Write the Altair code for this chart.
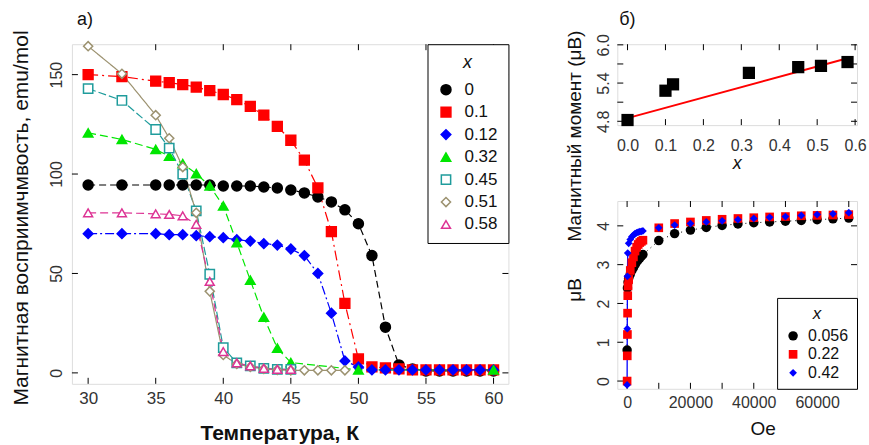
import altair as alt
import pandas as pd

FONT = "Liberation Sans"
LBL = "#333333"

# ---------------- panel a) : susceptibility vs temperature ----------------
series = ["0", "0.1", "0.12", "0.32", "0.45", "0.51", "0.58"]
colors = ["#000000", "#ff0000", "#0000ff", "#00e600", "#1f9c9c", "#9c9270", "#dd3394"]
fills = ["#000000", "#ff0000", "#0000ff", "#00e600", "white", "white", "white"]
shapes = ["circle", "square", "diamond", "triangle-up", "square", "diamond", "triangle-up"]
sizes = [100, 80, 110, 130, 60, 85, 105]
dashes = [[7, 4], [10, 4, 2, 4], [9, 3, 2, 3], [8, 4], [8, 3], [1, 0], [8, 4]]

temps_all = [30, 32.5, 35, 36, 37, 38, 39, 40, 41, 42, 43, 44, 45, 46, 47, 48, 49,
             50, 51, 52, 53, 54, 55, 56, 57, 58, 59, 60]
chi_0 = [94.5, 94.5, 94.5, 94.5, 94.5, 94.5, 94.5, 94, 94, 94, 93.5, 93, 92, 90.5,
         88.5, 86, 82, 75, 59, 23, 4, 2, 1, 1, 1, 1, 1, 1]
chi_01 = [150, 149, 146.7, 146, 145, 143.7, 142, 140, 137.4, 134, 129.6, 124, 117,
          107, 93, 71, 35, 7, 3, 2.5, 2, 1.5, 1.5, 1.5, 1.5, 1.5, 1.5, 1.5]
chi_012 = [70, 70, 70, 69.5, 69.5, 69, 68.5, 68, 67, 66.3, 65, 64.3, 62.3, 59, 50,
           30, 6, 3, 1.5, 1.5, 1.5, 1.5, 1.5, 1.5, 1.5, 1.5, 1.5, 1.5]
temps_032 = [30, 32.5, 35, 36, 37, 38, 39, 40, 41, 42, 43, 44, 45, 50, 60]
chi_032 = [120.7, 117.4, 112.4, 109, 105.2, 100.2, 94, 84, 65.5, 46.6, 28, 12.4, 5.2, 1.5, 1.5]
temps_045 = [30, 32.5, 35, 36, 37, 38, 39, 40, 41, 42, 43, 44, 45]
chi_045 = [143, 137, 122.4, 113, 100, 81.5, 49.6, 12.7, 5, 3.5, 2.3, 1.8, 1.8]
temps_051 = [30, 32.5, 35, 36, 37, 38, 39, 40, 41, 42, 43, 44, 45, 46, 47, 48, 49]
chi_051 = [164.3, 150.4, 129.6, 118, 103.5, 80.5, 41, 9, 4.5, 3, 2, 1.5, 1.3, 1.3, 1.3, 1.3, 1.3]
temps_058 = [30, 32.5, 35, 36, 37, 38, 39, 40, 41, 42, 43, 44, 45]
chi_058 = [80.5, 80.5, 80, 79.7, 79, 74.7, 46, 10.7, 5, 3.5, 2.3, 1.8, 1.8]

a_ticks_x = [30, 35, 40, 45, 50, 55, 60]
a_ticks_y = [0, 50, 100, 150]

# ---------------- panel б) top : moment vs x ----------------
mom_x = [0.0, 0.1, 0.12, 0.32, 0.45, 0.51, 0.58]
mom_val = [4.82, 5.28, 5.38, 5.56, 5.65, 5.67, 5.73]
fit_x = [0.0, 0.58]
fit_val = [4.85, 5.79]
b_ticks_x = [0.0, 0.1, 0.2, 0.3, 0.4, 0.5, 0.6]
b_labels_y = [4.8, 5.4, 6.0]
b_ticks_y = [4.8, 5.1, 5.4, 5.7, 6.0]

# ---------------- panel б) bottom : M(H) ----------------
c_series = ["0.056", "0.22", "0.42"]
c_colors = ["#000000", "#ff0000", "#0000ff"]
c_shapes = ["circle", "square", "diamond"]
c_sizes = [90, 60, 95]
h_high = [10000, 15000, 20000, 25000, 30000, 35000, 40000, 45000, 50000, 55000,
          60000, 65000, 70000]
h_black = [0, 100, 300, 500, 1000, 1500, 2000, 2500, 3000, 3500, 4000, 4500, 5000] + h_high
m_black = [0.8, 2.4, 2.55, 2.65, 2.75, 2.85, 2.92, 3.0, 3.07, 3.12, 3.17, 3.22, 3.26,
           3.62, 3.8, 3.89, 3.96, 4.01, 4.05, 4.08, 4.1, 4.12, 4.14, 4.16, 4.18, 4.2]
h_red = [0, 50, 100, 150, 200, 300, 500, 1000, 1500, 2000, 2500, 3000, 3500, 4000,
         4500, 5000] + h_high
m_red = [0.0, 0.65, 1.2, 1.75, 2.2, 2.45, 2.62, 2.85, 3.05, 3.2, 3.35, 3.45, 3.52,
         3.57, 3.6, 3.63,
         3.95, 4.06, 4.1, 4.14, 4.17, 4.19, 4.21, 4.23, 4.24, 4.26, 4.27, 4.28, 4.29]
h_blue = [0, 50, 100, 200, 500, 1000, 1500, 2000, 2500, 3000, 3500, 4000, 4500, 5000] + h_high
m_blue = [-0.1, 1.35, 2.7, 3.3, 3.55, 3.65, 3.72, 3.76, 3.8, 3.82, 3.84, 3.85, 3.86, 3.87,
          3.95, 4.02, 4.06, 4.1, 4.13, 4.16, 4.19, 4.22, 4.24, 4.27, 4.29, 4.31, 4.34]
blue_line_n = 4  # the blue connecting line is only visible over the steep low-field part
c_ticks_x = [0, 10000, 20000, 30000, 40000, 50000, 60000, 70000]
c_labels_x = [0, 20000, 40000, 60000]
c_ticks_y = [0, 1, 2, 3, 4]


# ---------------- helpers ----------------
def label_axis(values, fmt=None, angle=0, pad=6, size=16):
    kw = dict(values=values, ticks=False, tickSize=0, domain=False, grid=False,
              title=None, labelFont=FONT, labelFontSize=size, labelColor=LBL,
              labelPadding=pad, labelOverlap=False, labelAngle=angle)
    if fmt:
        kw["format"] = fmt
    return alt.Axis(**kw)


def tick_layers(xvals, yvals, xenc, yenc, W, H, L=6):
    xt = pd.DataFrame({"v": xvals})
    yt = pd.DataFrame({"v": yvals})
    rule = dict(color="black", strokeWidth=1)
    xe = alt.X("v:Q", scale=xenc[0], axis=xenc[1])
    ye = alt.Y("v:Q", scale=yenc[0], axis=yenc[1])
    return [
        alt.Chart(xt).mark_rule(**rule).encode(x=xe, y=alt.value(H - L), y2=alt.value(H)),
        alt.Chart(xt).mark_rule(**rule).encode(x=xe, y=alt.value(0), y2=alt.value(L)),
        alt.Chart(yt).mark_rule(**rule).encode(y=ye, x=alt.value(0), x2=alt.value(L)),
        alt.Chart(yt).mark_rule(**rule).encode(y=ye, x=alt.value(W - L), x2=alt.value(W)),
    ]


def text_layer(txt, x, y, size, angle=0, weight="normal", style="normal", color="#111111"):
    kw = dict(font=FONT, fontSize=size, align="center", baseline="middle",
              fontWeight=weight, fontStyle=style, color=color)
    if angle:
        kw["angle"] = angle
    return alt.Chart(pd.DataFrame({"t": [txt]})).mark_text(**kw).encode(
        text="t:N", x=alt.value(x), y=alt.value(y))


# ---------------- panel a) chart ----------------
WA, HA = 437, 340
rows = []
for s, tt, vv in [("0", temps_all, chi_0), ("0.1", temps_all, chi_01),
                  ("0.12", temps_all, chi_012), ("0.32", temps_032, chi_032),
                  ("0.45", temps_045, chi_045), ("0.51", temps_051, chi_051),
                  ("0.58", temps_058, chi_058)]:
    for t, v in zip(tt, vv):
        rows.append({"x": s, "T": t, "chi": v})
df_a = pd.DataFrame(rows)

xs_a = alt.Scale(domain=[28.8, 61.1], nice=False, zero=False)
ys_a = alt.Scale(domain=[-5.5, 165.3], nice=False, zero=False)
ax_a = label_axis(a_ticks_x, pad=7, size=17)
ay_a = label_axis(a_ticks_y, angle=-90, pad=7, size=16)

a_layers = tick_layers(a_ticks_x, a_ticks_y, (xs_a, ax_a), (ys_a, ay_a), WA, HA)
for s, c, d in zip(series, colors, dashes):
    a_layers.append(
        alt.Chart(df_a[df_a["x"] == s]).mark_line(color=c, strokeWidth=1.2, strokeDash=d)
        .encode(x=alt.X("T:Q", scale=xs_a, axis=ax_a), y=alt.Y("chi:Q", scale=ys_a, axis=ay_a))
    )

leg_a = alt.Legend(title="x", orient="top-right", offset=0, padding=10,
                   strokeColor="black", fillColor="white",
                   titleFont=FONT, titleFontSize=18, titleFontStyle="italic",
                   titleFontWeight="normal", titleColor="#111111", titleAnchor="middle",
                   titlePadding=9, labelFont=FONT, labelFontSize=17, labelColor="#111111",
                   labelOffset=10, symbolStrokeWidth=1.5, rowPadding=4.5)
a_points = alt.Chart(df_a).mark_point(opacity=1, fillOpacity=1, strokeWidth=1.5).encode(
    x=alt.X("T:Q", scale=xs_a, axis=ax_a),
    y=alt.Y("chi:Q", scale=ys_a, axis=ay_a),
    stroke=alt.Stroke("x:N", scale=alt.Scale(domain=series, range=colors), legend=leg_a),
    fill=alt.Fill("x:N", scale=alt.Scale(domain=series, range=fills), legend=leg_a),
    shape=alt.Shape("x:N", scale=alt.Scale(domain=series, range=shapes), legend=leg_a),
    size=alt.Size("x:N", scale=alt.Scale(domain=series, range=sizes), legend=leg_a),
)
a_layers.append(a_points)
a_layers.append(text_layer("а)", 13, -24, 18))
a_layers.append(text_layer("Магнитная восприимчмвость, emu/mol", -50, 174, 21, angle=270))
a_layers.append(text_layer("Температура, К", 208, 390, 21, weight="bold"))
panel_a = alt.layer(*a_layers).properties(width=WA, height=HA)

# ---------------- panel б) top ----------------
WB, HB = 240, 81
xs_b = alt.Scale(domain=[-0.027, 0.605], nice=False, zero=False)
ys_b = alt.Scale(domain=[4.74, 6.01], nice=False, zero=False)
ax_b = label_axis(b_ticks_x, fmt=".1f", pad=12)
ay_b = label_axis(b_labels_y, fmt=".1f", angle=-90, pad=6)
df_b = pd.DataFrame({"xv": mom_x, "m": mom_val})
df_fit = pd.DataFrame({"xv": fit_x, "m": fit_val})
b_layers = tick_layers(b_ticks_x, b_ticks_y, (xs_b, ax_b), (ys_b, ay_b), WB, HB)
b_layers.append(
    alt.Chart(df_fit).mark_line(color="#ff0000", strokeWidth=2).encode(
        x=alt.X("xv:Q", scale=xs_b, axis=ax_b), y=alt.Y("m:Q", scale=ys_b, axis=ay_b))
)
b_layers.append(
    alt.Chart(df_b).mark_square(color="black", size=150, opacity=1).encode(
        x=alt.X("xv:Q", scale=xs_b, axis=ax_b), y=alt.Y("m:Q", scale=ys_b, axis=ay_b))
)
b_layers.append(text_layer("б)", 10, -24, 18))
b_layers.append(text_layer("Магнитный момент (μB)", -42, 92, 19, angle=270))
b_layers.append(text_layer("x", 120, 120, 18, style="italic"))
panel_b = alt.layer(*b_layers).properties(width=WB, height=HB)

# ---------------- panel б) bottom ----------------
WC, HC = 240, 188
xs_c = alt.Scale(domain=[-3100, 72600], nice=False, zero=False)
ys_c = alt.Scale(domain=[-0.2, 4.64], nice=False, zero=False)
ax_c = label_axis(c_labels_x, fmt="d", pad=6)
ay_c = label_axis(c_ticks_y, fmt="d", angle=-90, pad=6)
rows = []
for s, hh, mm in [("0.056", h_black, m_black), ("0.22", h_red, m_red), ("0.42", h_blue, m_blue)]:
    for h, m in zip(hh, mm):
        rows.append({"xc": s, "H": h, "M": m})
df_c = pd.DataFrame(rows)

c_layers = tick_layers(c_ticks_x, c_ticks_y, (xs_c, ax_c), (ys_c, ay_c), WC, HC)
df_black = df_c[df_c["xc"] == "0.056"]
df_blue_low = df_c[df_c["xc"] == "0.42"].iloc[:blue_line_n]
c_layers.append(
    alt.Chart(df_black).mark_line(color="#000000", strokeWidth=1, strokeDash=[1, 4])
    .encode(x=alt.X("H:Q", scale=xs_c, axis=ax_c), y=alt.Y("M:Q", scale=ys_c, axis=ay_c))
)
c_layers.append(
    alt.Chart(df_blue_low).mark_line(color="#0000ff", strokeWidth=1.3)
    .encode(x=alt.X("H:Q", scale=xs_c, axis=ax_c), y=alt.Y("M:Q", scale=ys_c, axis=ay_c))
)
leg_c = alt.Legend(title="x", orient="bottom-right", offset=0, padding=8,
                   strokeColor="black", fillColor="white",
                   titleFont=FONT, titleFontSize=17, titleFontStyle="italic",
                   titleFontWeight="normal", titleColor="#111111", titleAnchor="middle",
                   titlePadding=5, labelFont=FONT, labelFontSize=16, labelColor="#111111",
                   labelOffset=7, symbolStrokeWidth=1, rowPadding=2.5)
c_layers.append(
    alt.Chart(df_c).mark_point(opacity=1, fillOpacity=1, strokeWidth=1, filled=True).encode(
        x=alt.X("H:Q", scale=xs_c, axis=ax_c),
        y=alt.Y("M:Q", scale=ys_c, axis=ay_c),
        color=alt.Color("xc:N", scale=alt.Scale(domain=c_series, range=c_colors), legend=leg_c),
        shape=alt.Shape("xc:N", scale=alt.Scale(domain=c_series, range=c_shapes), legend=leg_c),
        size=alt.Size("xc:N", scale=alt.Scale(domain=c_series, range=c_sizes), legend=leg_c),
    )
)
c_layers.append(text_layer("μB", -42, 89, 19, angle=270))
c_layers.append(text_layer("Oe", 146, 228, 19))
panel_c = alt.layer(*c_layers).properties(width=WC, height=HC)

right = alt.vconcat(panel_b, panel_c, spacing=76, bounds="flush").resolve_scale(
    color="independent", shape="independent", size="independent")

chart = (
    alt.hconcat(panel_a, right, spacing=109, bounds="flush")
    .resolve_scale(color="independent", fill="independent", stroke="independent",
                   shape="independent", size="independent")
    .resolve_legend(color="independent", fill="independent", stroke="independent",
                    shape="independent", size="independent")
    .properties(padding={"left": 10, "top": 10, "right": 2, "bottom": 2})
    .configure_view(stroke="black", strokeWidth=1.5)
    .configure(background="white")
)

chart.save("out.html", embed_options={"renderer": "svg", "actions": False})
